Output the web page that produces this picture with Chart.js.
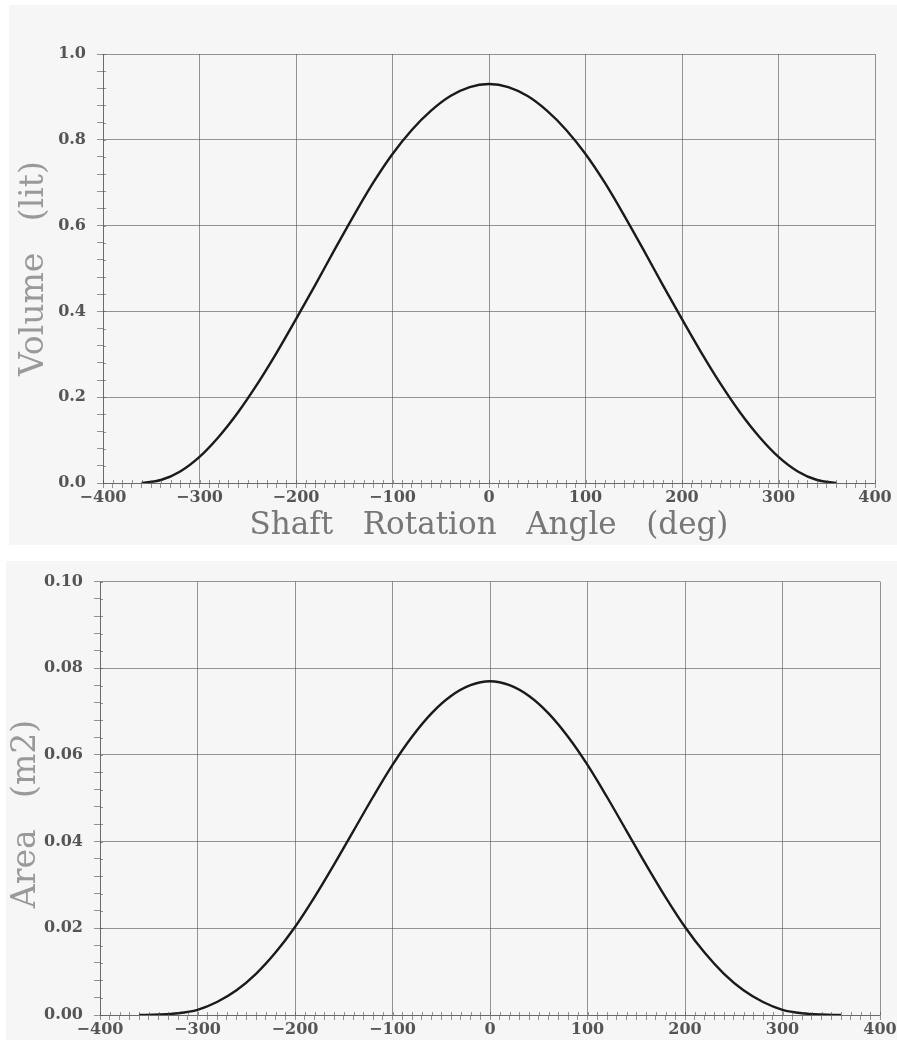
<!DOCTYPE html>
<html>
<head>
<meta charset="utf-8">
<script src="https://cdn.jsdelivr.net/npm/chart.js@4/dist/chart.umd.min.js"></script>
<style>
  body { margin: 0; background: #fff; width: 897px; height: 1040px; position: relative; overflow: hidden; }
  .panel { position: absolute; background: #f6f6f6; }
  #top { left: 9px; top: 5px; width: 888px; height: 540px; }
  #bottom { left: 6px; top: 561px; width: 891px; height: 479px; }
</style>
</head>
<body>
<div class="panel" id="top"><canvas id="volumeChart"></canvas></div>
<div class="panel" id="bottom"><canvas id="areaChart"></canvas></div>
<script>
// shaft angle (deg)
var angles = [-360, -340, -320, -300, -280, -260, -240, -220, -200, -180, -160, -140, -120, -100, -80, -60, -40, -20,
    0, 20, 40, 60, 80, 100, 120, 140, 160, 180, 200, 220, 240, 260, 280, 300, 320, 340, 360];
// chamber volume (lit)
var volume = [0.000, 0.007, 0.027, 0.061, 0.108, 0.165, 0.231, 0.304, 0.382, 0.462, 0.544, 0.624, 0.700, 0.767, 0.823, 0.868, 0.902, 0.923,
    0.930, 0.923, 0.902, 0.868, 0.823, 0.767, 0.700, 0.624, 0.544, 0.462, 0.382, 0.304, 0.231, 0.165, 0.108, 0.061, 0.027, 0.007, 0.000];
// port area (m2)
var area = [0.0000, 0.0001, 0.0004, 0.0012, 0.0030, 0.0057, 0.0095, 0.0144, 0.0203, 0.0272, 0.0347, 0.0425, 0.0503, 0.0577, 0.0642, 0.0696, 0.0736, 0.0761,
    0.0770, 0.0761, 0.0736, 0.0696, 0.0642, 0.0577, 0.0503, 0.0425, 0.0347, 0.0272, 0.0203, 0.0144, 0.0095, 0.0057, 0.0030, 0.0012, 0.0004, 0.0001, 0.0000];

var xRange = [-400, 400];
var volumeRange = [0, 1.0];
var areaRange = [0, 0.10];

var gridGray = 'rgba(80,80,80,0.6)';
var tickFont = { family: 'DejaVu Serif', size: 16, weight: 'bold' };

function minus(v) {
    return v < 0 ? '\u2212' + Math.abs(v) : String(v);
}

// small tick marks reaching into the plot, like the original
var innerTicks = {
    id: 'innerTicks',
    afterDraw: function(chart) {
        var ctx = chart.ctx, area = chart.chartArea, x = chart.scales.x, y = chart.scales.y;
        ctx.save();
        ctx.strokeStyle = gridGray;
        ctx.lineWidth = 1;
        ctx.beginPath();
        x.ticks.forEach(function(t) {
            var px = Math.round(x.getPixelForValue(t.value)) + 0.5;
            ctx.moveTo(px, area.bottom);
            ctx.lineTo(px, area.bottom - 3);
        });
        y.ticks.forEach(function(t) {
            var py = Math.round(y.getPixelForValue(t.value)) + 0.5;
            ctx.moveTo(area.left, py);
            ctx.lineTo(area.left + 3, py);
        });
        ctx.stroke();
        ctx.restore();
    }
};

function makeChart(id, values, yRange, yStep, yMajor, yDigits, yTitle, yTitlePad, xTitle, xHeight, pad) {
    var points = angles.map(function(a, i) { return { x: a, y: values[i] }; });
    return new Chart(document.getElementById(id), {
        type: 'line',
        data: {
            datasets: [{
                data: points,
                borderColor: '#1a1a1a',
                borderWidth: 2.4,
                pointRadius: 0,
                cubicInterpolationMode: 'monotone',
                fill: false
            }]
        },
        options: {
            responsive: true,
            maintainAspectRatio: false,
            animation: false,
            layout: { padding: pad },
            plugins: { legend: { display: false }, tooltip: { enabled: false } },
            scales: {
                x: {
                    type: 'linear',
                    min: xRange[0],
                    max: xRange[1],
                    afterFit: function(s) { s.height = xHeight; },
                    border: { color: gridGray },
                    grid: {
                        color: function(c) { return c.tick && c.tick.value % 100 === 0 ? gridGray : 'rgba(0,0,0,0)'; },
                        tickColor: gridGray,
                        tickLength: 5
                    },
                    ticks: {
                        stepSize: 10,
                        autoSkip: false,
                        maxRotation: 0,
                        padding: 0,
                        color: '#555',
                        font: tickFont,
                        callback: function(v) { return v % 100 === 0 ? minus(v) : ''; }
                    },
                    title: {
                        display: !!xTitle,
                        text: xTitle,
                        color: '#777',
                        font: { family: 'DejaVu Serif', size: 31 },
                        padding: { top: 0, bottom: 0 }
                    }
                },
                y: {
                    min: yRange[0],
                    max: yRange[1],
                    afterFit: function(s) { s.width = 94; },
                    border: { color: gridGray },
                    grid: {
                        color: function(c) {
                            if (!c.tick) return 'rgba(0,0,0,0)';
                            return Math.round(c.tick.value / yStep) % yMajor === 0 ? gridGray : 'rgba(0,0,0,0)';
                        },
                        tickColor: gridGray,
                        tickLength: 6
                    },
                    ticks: {
                        stepSize: yStep,
                        autoSkip: false,
                        padding: 11,
                        color: '#555',
                        font: tickFont,
                        callback: function(v) {
                            return Math.round(v / yStep) % yMajor === 0 ? v.toFixed(yDigits) : '';
                        }
                    },
                    title: {
                        display: true,
                        text: yTitle,
                        color: '#999',
                        font: { family: 'DejaVu Serif', size: 33 },
                        padding: { top: yTitlePad, bottom: 0 }
                    }
                }
            }
        },
        plugins: [innerTicks]
    });
}

makeChart('volumeChart', volume, volumeRange, 0.04, 5, 1, 'Volume   (lit)', 6,
    'Shaft   Rotation   Angle   (deg)', 62, { top: 49, right: 22, left: 0, bottom: 0 });
makeChart('areaChart', area, areaRange, 0.004, 5, 2, 'Area   (m2)   ', 1,
    '', 25, { top: 17, right: 17, left: 0, bottom: 0 });
</script>
</body>
</html>
